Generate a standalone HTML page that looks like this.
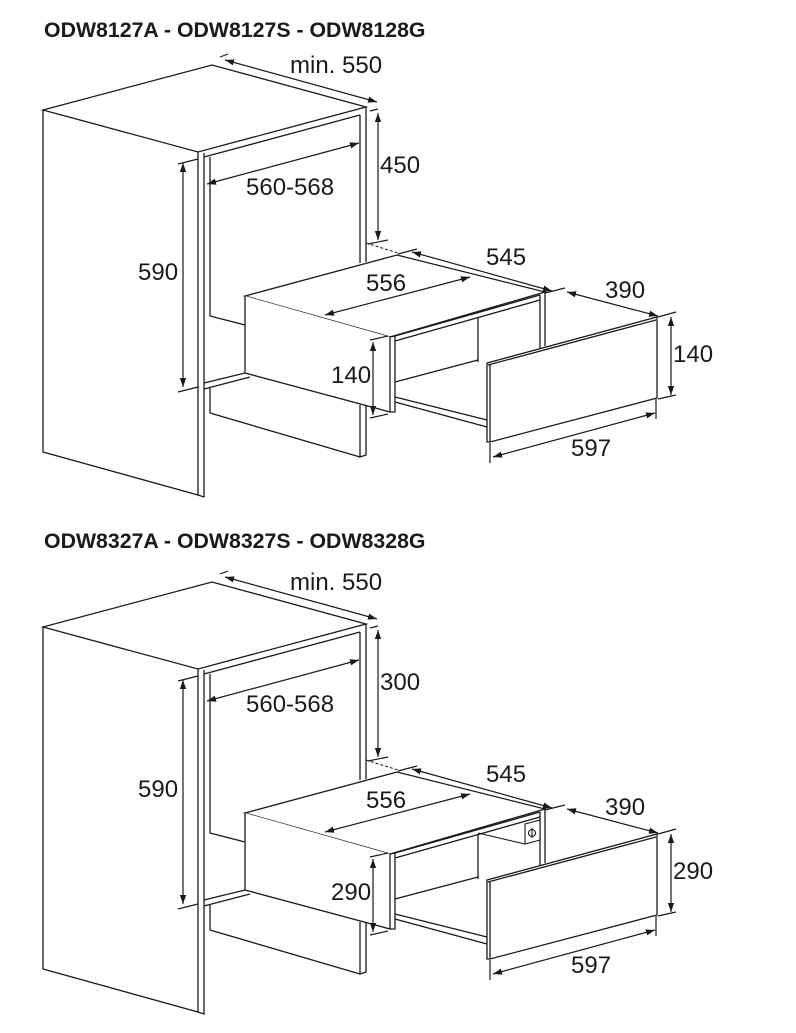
<!DOCTYPE html>
<html><head><meta charset="utf-8"><style>
html,body{margin:0;padding:0;background:#fff;width:796px;height:1033px;overflow:hidden}
svg{display:block}
text{font-family:"Liberation Sans",Arial,sans-serif;fill:#1a1a1a}
.t{font-size:24px}
.h{font-size:21.3px;font-weight:bold}
</style></head><body>
<svg width="796" height="1033" viewBox="0 0 796 1033" xmlns="http://www.w3.org/2000/svg">
<defs>
<marker id="a" viewBox="0 0 10 10" refX="10" refY="5" markerWidth="9" markerHeight="9" markerUnits="userSpaceOnUse" orient="auto-start-reverse"><path d="M0,1.5 L10,5 L0,8.5z" fill="#1a1a1a"/></marker>
<g id="d" fill="none" stroke="#1a1a1a" stroke-width="1.3">
 <path d="M43,110 L212,65 L366,107 L198,152 Z"/>
 <path d="M43,110 L43,452 L198,495 L198,152"/>
 <path d="M204,153 L204,497 L198,495"/>
 <path d="M204,157 L360,115"/>
 <path d="M360,115 L360,263 M366,107 L366,262"/>
 <path d="M360,405 L360,457 L366,455 L366,405"/>
 <path d="M210,157 L210,316 M210,413 L210,388"/>
 <path d="M210,413 L360,457"/>
 <path d="M210,316 L245,325"/>
 <path d="M204,383 L245,373 M204,389 L250,377"/>
 <path d="M245,296 L397,255 L545,292 L390,337 Z" fill="#fff"/>
 <path d="M245,296 L245,373 L390,412 L390,337" fill="#fff"/>
 <path d="M390,337 L395,336 L395,412 L390,412"/>
 <path d="M395,336 L540,295 M395,341 L540,300"/>
 <path d="M540,295 L540,348 M545,292 L545,346"/>
 <path d="M478,318 L478,362"/>
 <path d="M395,382 L478,360"/>
 <path d="M395,397 L487,420 M395,402 L487,427"/>
 <path d="M487,363 L657,317 L657,398 L490,442 L487,442 Z" fill="#fff"/>
 <path d="M490,364 L490,442 M488,365 L656,320"/>
 <path d="M366,243 L398,253" stroke-dasharray="3,2" stroke-width="1"/>
 <g stroke-width="1.2">
 <path d="M225,60 L377,102" marker-start="url(#a)" marker-end="url(#a)"/>
 <path d="M220,57 L228,54"/>
 <path d="M378,113 L378,240" marker-start="url(#a)" marker-end="url(#a)"/>
 <path d="M368,244 L388,240 M370,111 L378,109"/>
 <path d="M207,184 L359,143" marker-start="url(#a)" marker-end="url(#a)"/>
 <path d="M183,163 L183,387" marker-start="url(#a)" marker-end="url(#a)"/>
 <path d="M178,164 L198,159 M178,392 L198,387"/>
 <path d="M325,315 L470,277" marker-start="url(#a)" marker-end="url(#a)"/>
 <path d="M412,252 L552,291" marker-start="url(#a)" marker-end="url(#a)"/>
 <path d="M398,254 L417,249"/>
 <path d="M545,293 L565,288"/>
 <path d="M567,292 L658,316" marker-start="url(#a)" marker-end="url(#a)"/>
 <path d="M658,317 L676,312 M658,399 L676,395"/>
 <path d="M671,317 L671,395" marker-start="url(#a)" marker-end="url(#a)"/>
 <path d="M373,342 L373,415" marker-start="url(#a)" marker-end="url(#a)"/>
 <path d="M370,340 L388,336 M370,418 L388,414"/>
 <path d="M490,443 L490,463 M656,399 L656,419"/>
 <path d="M493,457 L655,413" marker-start="url(#a)" marker-end="url(#a)"/>
 </g>
</g>
</defs>
<text class="h" x="44" y="37">ODW8127A - ODW8127S - ODW8128G</text>
<use href="#d"/>
<text class="t" x="290" y="73">min. 550</text>
<text class="t" x="380" y="173">450</text>
<text class="t" x="246" y="195">560-568</text>
<text class="t" x="138" y="280">590</text>
<text class="t" x="486" y="265">545</text>
<text class="t" x="366" y="291">556</text>
<text class="t" x="605" y="298">390</text>
<text class="t" x="673" y="362">140</text>
<text class="t" x="331" y="383">140</text>
<text class="t" x="571" y="456">597</text>

<text class="h" x="44" y="548">ODW8327A - ODW8327S - ODW8328G</text>
<g transform="translate(0,517)"><use href="#d"/>
 <g fill="#fff" stroke="#1a1a1a" stroke-width="1.1">
 <path d="M478,316 L525,327"/>
 <path d="M525,307 L540,303 L540,323 L525,327 Z"/>
 <circle cx="532" cy="316" r="3.5"/>
 <path d="M532,311 L532,321"/>
 </g>
</g>
<text class="t" x="290" y="590">min. 550</text>
<text class="t" x="380" y="690">300</text>
<text class="t" x="246" y="712">560-568</text>
<text class="t" x="138" y="797">590</text>
<text class="t" x="486" y="782">545</text>
<text class="t" x="366" y="808">556</text>
<text class="t" x="605" y="815">390</text>
<text class="t" x="673" y="879">290</text>
<text class="t" x="331" y="900">290</text>
<text class="t" x="571" y="973">597</text>
</svg>
</body></html>
